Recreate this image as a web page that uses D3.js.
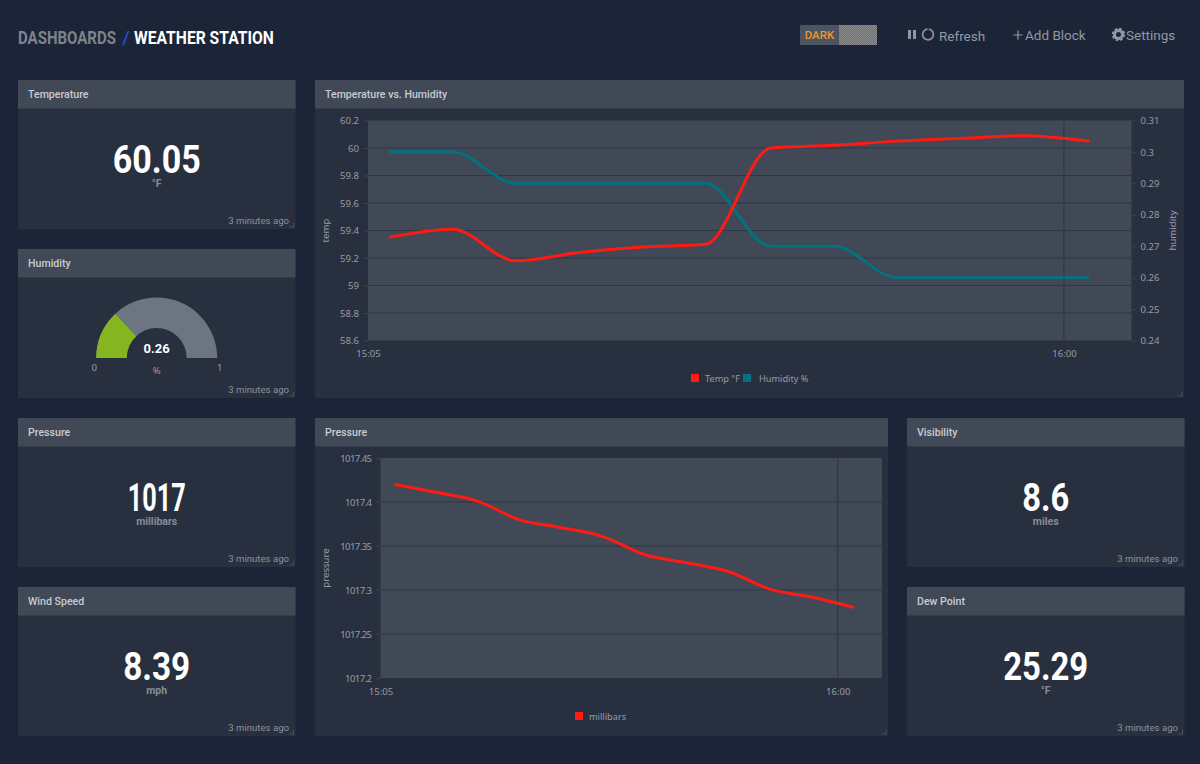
<!DOCTYPE html>
<html>
<head>
<title>Weather Station</title>
<script src="https://d3js.org/d3.v7.min.js" charset="utf-8"></script>
<style>
body {
   margin: 0;
   background-color: #1c2538;
   overflow: hidden;
}
text {
   font-family: Roboto, "Noto Sans", sans-serif;
}
.block-title {
   font-size: 10.6px;
   font-weight: 500;
   fill: #c8ccd2;
}
.big-value {
   font-size: 38px;
   font-weight: 700;
   fill: #ffffff;
   text-anchor: middle;
}
.unit {
   font-size: 10.5px;
   font-weight: 700;
   fill: #868c97;
   text-anchor: middle;
}
.ago {
   font-size: 9.6px;
   fill: #8b919c;
   text-anchor: end;
}
.tick text, .axis-label, .gauge-label {
   font-family: "Noto Sans", Roboto, sans-serif;
   font-size: 9.6px;
   fill: #969ba5;
}
.legend-label {
   font-family: "Noto Sans", Roboto, sans-serif;
   font-size: 9.2px;
   fill: #969ba5;
}
.tight .tick text {
   letter-spacing: -0.6px;
}
.tick line, .domain {
   stroke: #3b4452;
}
.grid line {
   stroke: #2e3746;
   stroke-width: 1.2px;
}
.series {
   fill: none;
   stroke-width: 3px;
}
.menu {
   font-size: 13.5px;
   fill: #9298a2;
}
.heading {
   font-size: 19px;
   font-weight: 700;
}
</style>
</head>
<body>
<svg id="page" width="1200" height="764">
   <defs>
      <pattern id="dither" width="2" height="2" patternUnits="userSpaceOnUse">
         <rect width="2" height="2" fill="#6f6f72"></rect>
         <rect width="1" height="1" fill="#8c8c8e"></rect>
         <rect x="1" y="1" width="1" height="1" fill="#8c8c8e"></rect>
      </pattern>
   </defs>
</svg>
<script>
// Single value blocks
var statTitles = ["Temperature", "Pressure", "Wind Speed", "Visibility", "Dew Point"];
var statValues = ["60.05", "1017", "8.39", "8.6", "25.29"];
var statUnits = ["°F", "millibars", "mph", "miles", "°F"];
var agoLabel = "3 minutes ago";

// Humidity gauge
var gaugeValue = 0.26;
var gaugeMin = 0;
var gaugeMax = 1;
var gaugeUnit = "%";

// Time series, one reading about every five minutes
var times = ["15:06:40", "15:11:40", "15:16:40", "15:21:40", "15:26:40", "15:31:40",
             "15:36:50", "15:41:50", "15:46:50", "15:51:50", "15:56:50", "16:02:00"];
var tempValues = [59.35, 59.41, 59.18, 59.24, 59.28, 59.30, 60.0, 60.02, 60.05, 60.07, 60.09, 60.05];
var humidityValues = [0.30, 0.30, 0.29, 0.29, 0.29, 0.29, 0.27, 0.27, 0.26, 0.26, 0.26, 0.26];
var pressureValues = [1017.42, 1017.411, 1017.401, 1017.38, 1017.371, 1017.361,
                      1017.34, 1017.331, 1017.321, 1017.301, 1017.292, 1017.28];

// Axis ticks
var timeStart = "15:05:00";
var timeEnd = "16:05:20";
var timeTicks = ["15:05:00", "16:00:00"];
var tempTicks = [58.6, 58.8, 59, 59.2, 59.4, 59.6, 59.8, 60, 60.2];
var humidityTicks = [0.24, 0.25, 0.26, 0.27, 0.28, 0.29, 0.3, 0.31];
var pressureTicks = [1017.2, 1017.25, 1017.3, 1017.35, 1017.4, 1017.45];

var red = "#ff1a14";
var teal = "#00737f";

// drawn width of each big number, the original face is condensed
var bigWidths = [88, 58, 67, 47, 85];

var parseTime = d3.timeParse("%H:%M:%S");
var svg = d3.select("#page");

// Squeeze a text sideways to a given width
function fitText(sel, x, y, width) {
   var k = width / sel.node().getComputedTextLength();
   sel.attr("transform", "translate(" + x + "," + y + ") scale(" + k + ",1)");
}

function block(x, y, w, h, title) {
   var g = svg.append("g").attr("transform", "translate(" + x + "," + y + ")");
   g.append("rect").attr("width", w).attr("height", h).attr("fill", "#283040");
   g.append("rect").attr("width", w).attr("height", 28.5).attr("fill", "#414956");
   g.append("text").attr("class", "block-title").attr("x", 10).attr("y", 18).text(title);
   // resize handle
   g.append("path")
    .attr("d", "M" + (w - 2) + " " + (h - 6) + "V" + (h - 2) + "H" + (w - 6))
    .attr("fill", "none")
    .attr("stroke", "#49515f");
   return g;
}

function statBlock(x, y, i) {
   var g = block(x, y, 277.5, 149, statTitles[i]);
   var big = g.append("text").attr("class", "big-value").text(statValues[i]);
   fitText(big, 138.7, 92.5, bigWidths[i]);
   g.append("text").attr("class", "unit").attr("x", 138.7).attr("y", 107).text(statUnits[i]);
   g.append("text").attr("class", "ago").attr("x", 271).attr("y", 144).text(agoLabel);
}

statBlock(18, 80, 0);
statBlock(18, 418, 1);
statBlock(18, 587, 2);
statBlock(907, 418, 3);
statBlock(907, 587, 4);

// Gauge
var gaugeBlock = block(18, 249, 277.5, 149, "Humidity");
var gauge = gaugeBlock.append("g").attr("transform", "translate(138.7,109)");
var gaugeAngle = d3.scaleLinear().domain([gaugeMin, gaugeMax]).range([-Math.PI / 2, Math.PI / 2]);
var gaugeArc = d3.arc().innerRadius(30).outerRadius(60.5);

gauge.append("path")
     .attr("d", gaugeArc({startAngle: gaugeAngle(gaugeMin), endAngle: gaugeAngle(gaugeMax)}))
     .attr("fill", "#6d7583");
gauge.append("path")
     .attr("d", gaugeArc({startAngle: gaugeAngle(gaugeMin), endAngle: gaugeAngle(gaugeValue)}))
     .attr("fill", "#85b620");
gauge.append("text")
     .attr("y", -5)
     .attr("text-anchor", "middle")
     .style("font-size", "13px")
     .style("font-weight", "700")
     .style("fill", "#ffffff")
     .text(gaugeValue);
gauge.append("text").attr("class", "gauge-label").attr("x", -62.5).attr("y", 13).attr("text-anchor", "middle").text(gaugeMin);
gauge.append("text").attr("class", "gauge-label").attr("x", 63).attr("y", 13).attr("text-anchor", "middle").text(gaugeMax);
gauge.append("text").attr("class", "gauge-label").attr("y", 16).attr("text-anchor", "middle").text(gaugeUnit);
gaugeBlock.append("text").attr("class", "ago").attr("x", 271).attr("y", 144).text(agoLabel);

// Chart plumbing shared by both line charts
function timeChart(g, box, yScale, yTicks, yLabel) {
   var plot = g.append("g").attr("transform", "translate(" + box.left + "," + box.top + ")");
   var x = d3.scaleTime()
             .domain([parseTime(timeStart), parseTime(timeEnd)])
             .range([0, box.width]);
   yScale.range([box.height, 0]);

   plot.append("rect").attr("width", box.width).attr("height", box.height).attr("fill", "#414956");

   plot.append("g").attr("class", "grid")
       .selectAll("line").data(yTicks.slice(1, -1)).enter().append("line")
       .attr("x2", box.width)
       .attr("y1", function(d) { return yScale(d); })
       .attr("y2", function(d) { return yScale(d); });
   plot.append("g").attr("class", "grid")
       .selectAll("line").data(timeTicks.slice(1)).enter().append("line")
       .attr("x1", function(d) { return x(parseTime(d)); })
       .attr("x2", function(d) { return x(parseTime(d)); })
       .attr("y2", box.height);

   plot.append("g")
       .attr("class", box.tight ? "tight" : null)
       .call(d3.axisLeft(yScale).tickValues(yTicks).tickSize(4).tickPadding(5).tickFormat(String))
       .call(function(a) { a.select(".domain").remove(); });

   var xAxis = plot.append("g")
       .attr("transform", "translate(0," + box.height + ")")
       .call(d3.axisBottom(x)
               .tickValues(timeTicks.map(parseTime))
               .tickSize(0)
               .tickPadding(10)
               .tickFormat(d3.timeFormat("%H:%M")));
   xAxis.select(".domain").remove();

   plot.append("text")
       .attr("class", "axis-label")
       .attr("text-anchor", "middle")
       .attr("transform", "translate(" + box.labelX + "," + (box.height / 2) + ") rotate(-90)")
       .text(yLabel);

   return {plot: plot, x: x};
}

function drawSeries(plot, x, y, values, color) {
   var line = d3.line()
                .curve(d3.curveMonotoneX)
                .x(function(d, i) { return x(parseTime(times[i])); })
                .y(function(d) { return y(d); });
   plot.append("path").datum(values).attr("class", "series").attr("stroke", color).attr("d", line);
}

function legendItem(g, x, y, color, label, gap) {
   g.append("rect").attr("x", x).attr("y", y).attr("width", 8).attr("height", 8).attr("fill", color);
   g.append("text").attr("class", "legend-label").attr("x", x + gap).attr("y", y + 7.5).text(label);
}

// Temperature vs. Humidity
var tempBlock = block(315, 80, 869, 318, "Temperature vs. Humidity");
var tempY = d3.scaleLinear().domain([58.6, 60.2]);
var humidityY = d3.scaleLinear().domain([0.24, 0.31]);
var tempBox = {left: 53, top: 40.5, width: 763.5, height: 220, labelX: -39.5};
var tempChart = timeChart(tempBlock, tempBox, tempY, tempTicks, "temp");

humidityY.range([tempBox.height, 0]);
tempChart.plot.append("g")
   .attr("transform", "translate(" + tempBox.width + ",0)")
   .call(d3.axisRight(humidityY).tickValues(humidityTicks).tickSize(4).tickPadding(5).tickFormat(String))
   .call(function(a) { a.select(".domain").remove(); });
tempChart.plot.append("text")
   .attr("class", "axis-label")
   .attr("text-anchor", "middle")
   .attr("transform", "translate(" + (tempBox.width + 44.5) + "," + (tempBox.height / 2) + ") rotate(-90)")
   .text("humidity");

drawSeries(tempChart.plot, tempChart.x, humidityY, humidityValues, teal);
drawSeries(tempChart.plot, tempChart.x, tempY, tempValues, red);
legendItem(tempBlock, 376, 294, red, "Temp °F", 14);
legendItem(tempBlock, 428, 294, teal, "Humidity %", 16);

// Pressure
var pressureBlock = block(315, 418, 573, 318, "Pressure");
var pressureY = d3.scaleLinear().domain([1017.2, 1017.45]);
var pressureBox = {left: 65.5, top: 40, width: 501.5, height: 220, labelX: -52, tight: true};
var pressureChart = timeChart(pressureBlock, pressureBox, pressureY, pressureTicks, "pressure");
drawSeries(pressureChart.plot, pressureChart.x, pressureY, pressureValues, red);
legendItem(pressureBlock, 260, 294, red, "millibars", 14);

// Header title
var dashTitle = svg.append("text")
   .attr("class", "heading")
   .attr("fill", "#7d838e")
   .text("DASHBOARDS");
fitText(dashTitle, 18, 43.5, 98);
svg.append("text")
   .attr("x", 122).attr("y", 43.5)
   .style("font-size", "19px")
   .attr("fill", "#2a50e0")
   .text("/");
var stationTitle = svg.append("text")
   .attr("class", "heading")
   .attr("fill", "#ffffff")
   .text("WEATHER STATION");
fitText(stationTitle, 134, 43.5, 140);

// Theme toggle
svg.append("rect").attr("x", 800).attr("y", 25).attr("width", 39).attr("height", 20).attr("fill", "#4c5361");
svg.append("rect").attr("x", 839).attr("y", 25).attr("width", 38).attr("height", 20).attr("fill", "url(#dither)");
svg.append("text")
   .attr("x", 819.5).attr("y", 39)
   .attr("text-anchor", "middle")
   .style("font-size", "11.5px")
   .style("font-weight", "500")
   .attr("fill", "#f0962e")
   .text("DARK");

// Refresh controls
svg.append("rect").attr("x", 908).attr("y", 30).attr("width", 3).attr("height", 9).attr("fill", "#8f95a0");
svg.append("rect").attr("x", 913).attr("y", 30).attr("width", 3).attr("height", 9).attr("fill", "#8f95a0");
svg.append("path")
   .attr("transform", "translate(928,34.5)")
   .attr("d", d3.arc().innerRadius(4.6).outerRadius(6.2)({startAngle: 0.15, endAngle: 2 * Math.PI - 0.1}))
   .attr("fill", "#8f95a0");
svg.append("text").attr("class", "menu").attr("x", 939).attr("y", 41).text("Refresh");

svg.append("path")
   .attr("d", "M1013.5 35H1022.5M1018 30.5V39.5")
   .attr("stroke", "#9298a2")
   .attr("stroke-width", 1.2);
svg.append("text").attr("class", "menu").attr("x", 1025).attr("y", 40).text("Add Block");

// Gear icon: toothed ring
var gear = svg.append("g").attr("transform", "translate(1118.5,34.5)");
gear.append("circle").attr("r", 4).attr("fill", "none").attr("stroke", "#9298a2").attr("stroke-width", 3);
gear.append("circle").attr("r", 5.8).attr("fill", "none").attr("stroke", "#9298a2")
    .attr("stroke-width", 1.8).attr("stroke-dasharray", "2.55 2");
svg.append("text").attr("class", "menu").attr("x", 1126).attr("y", 40).text("Settings");
</script>
</body>
</html>
